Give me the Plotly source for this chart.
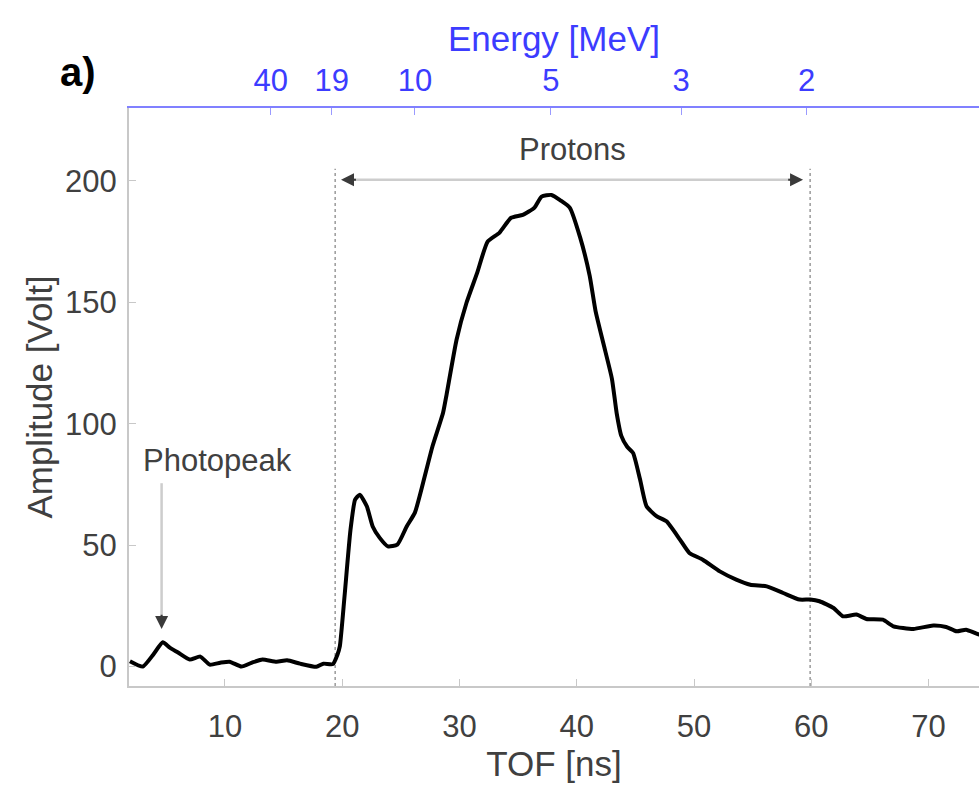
import plotly.graph_objects as go

# ---- data ----
tof_ns = [1.9, 3.0, 3.9, 4.7, 5.3, 6.0, 7.0, 7.9, 8.7, 9.6, 10.4, 11.4, 12.4, 13.2, 14.4,
          15.3, 16.4, 17.8, 18.4, 19.2, 19.6, 19.8, 20.2, 20.7, 21.1, 21.5, 22.1, 22.6,
          23.2, 23.9, 24.7, 25.5, 26.2, 26.9, 27.7, 28.6, 28.9, 29.75, 30.6, 31.5, 32.4,
          33.4, 34.4, 35.4, 36.4, 37.0, 37.85, 38.6, 39.4, 40.3, 41.1, 41.6, 42.3, 43.0,
          43.4, 43.8, 44.3, 44.8, 45.4, 45.95, 46.8, 47.65, 48.8, 49.6, 50.75, 52.2, 53.6,
          54.8, 56.2, 57.6, 59.0, 59.9, 60.7, 61.9, 62.7, 63.85, 64.7, 66.1, 67.0, 68.7,
          70.4, 71.5, 72.4, 73.2, 74.3, 75.0]
amplitude_v = [2.2, 0.0, 5.0, 10.0, 7.8, 5.8, 2.9, 4.1, 0.8, 1.6, 2.0, 0.0, 1.8, 2.9, 2.0,
               2.6, 1.2, -0.1, 1.2, 1.0, 5.0, 8.4, 29, 56, 68.7, 70.8, 66, 57.7,
               53, 49.5, 50.2, 57.7, 63.4, 75.7, 90.7, 104.5, 112, 134.6, 149.8, 162, 175,
               178.6, 184.8, 186, 189, 193.5, 194.2, 192, 189, 176.5, 161, 146.5, 132.5, 118.5,
               104.5, 95, 90.5, 88, 77, 66, 61.9, 59.8, 52.3, 46.8, 44, 39.2, 35.8,
               33.7, 33, 30.3, 27.6, 27.6, 26.9, 24.1, 20.7, 21.4, 19.6, 19.3, 16.6, 15.5,
               16.9, 16.3, 14.5, 15.2, 13.2, 13.5]

x_ticks = [10, 20, 30, 40, 50, 60, 70]
y_ticks = [0, 50, 100, 150, 200]
energy_labels = ["40", "19", "10", "5", "3", "2"]
energy_tof = [13.9, 19.1, 26.2, 37.8, 48.9, 59.6]
proton_window = [19.4, 59.9]

x_range = [1.82, 74.3]
y_range = [-8, 230]

grey = "#404040"
axis_grey = "#c8c8c8"
blue = "#3c3cff"
font = "Liberation Sans, Arial, sans-serif"

fig = go.Figure()
fig.add_trace(go.Scatter(x=tof_ns, y=amplitude_v, mode="lines",
                         line=dict(color="black", width=4, shape="spline", smoothing=0.5),
                         showlegend=False, hoverinfo="skip"))
# invisible trace to anchor the top energy axis
fig.add_trace(go.Scatter(x=x_range, y=[None, None], xaxis="x2", mode="lines",
                         showlegend=False, hoverinfo="skip"))

# dotted proton window lines
for xv in proton_window:
    fig.add_shape(type="line", x0=xv, x1=xv, y0=y_range[0], y1=205, xref="x", yref="y",
                  line=dict(color="#9a9a9a", width=1.5, dash="dot"), layer="below")

arrow_line = "#cdcdcd"
head_col = "#3a3a3a"

# Protons double arrow: light shaft, dark heads
fig.add_shape(type="line", x0=proton_window[0] + 0.8, x1=proton_window[1] - 0.9, y0=200.5, y1=200.5,
              xref="x", yref="y", line=dict(color=arrow_line, width=2.5))
fig.add_annotation(x=proton_window[1] - 0.6, y=200.5, ax=proton_window[1] - 2.0, ay=200.5,
                   xref="x", yref="y", axref="x", ayref="y", text="", showarrow=True,
                   arrowhead=2, arrowsize=1.3, arrowwidth=2, arrowcolor=head_col)
fig.add_annotation(x=proton_window[0] + 0.5, y=200.5, ax=proton_window[0] + 1.9, ay=200.5,
                   xref="x", yref="y", axref="x", ayref="y", text="", showarrow=True,
                   arrowhead=2, arrowsize=1.3, arrowwidth=2, arrowcolor=head_col)
fig.add_annotation(x=39.6, y=213, xref="x", yref="y", text="Protons", showarrow=False,
                   font=dict(family=font, size=31, color=grey))

# Photopeak arrow
fig.add_shape(type="line", x0=4.6, x1=4.6, y0=75.5, y1=19, xref="x", yref="y",
              line=dict(color=arrow_line, width=2.5))
fig.add_annotation(x=4.6, y=15.5, ax=4.6, ay=22, xref="x", yref="y", axref="x", ayref="y",
                   text="", showarrow=True, arrowhead=2, arrowsize=1.3, arrowwidth=2,
                   arrowcolor=head_col)
fig.add_annotation(x=9.4, y=85, xref="x", yref="y", text="Photopeak", showarrow=False,
                   font=dict(family=font, size=31, color=grey))

# panel label
fig.add_annotation(x=-0.083, y=1.0, xref="paper", yref="paper", yanchor="bottom", yshift=12,
                   text="<b>a)</b>", showarrow=False,
                   font=dict(family=font, size=40, color="black"))

fig.update_layout(
    width=979, height=790,
    margin=dict(l=129, r=0, t=108, b=104),
    paper_bgcolor="white", plot_bgcolor="white",
    font=dict(family=font, color=grey),
    xaxis=dict(range=x_range, tickvals=x_ticks, ticks="inside", ticklen=7, tickcolor=axis_grey,
               showline=True, linecolor=axis_grey, linewidth=2, showgrid=False, zeroline=False,
               tickfont=dict(family=font, size=31, color=grey), ticklabelstandoff=12,
               title=dict(text="TOF [ns]", font=dict(family=font, size=35, color=grey),
                          standoff=4)),
    xaxis2=dict(range=x_range, overlaying="x", side="top", anchor="y", tickvals=energy_tof,
                ticktext=energy_labels, ticks="inside", ticklen=7, tickcolor="#9a9aff",
                showline=True, linecolor="#8080ff", linewidth=2, showgrid=False, zeroline=False,
                tickfont=dict(family=font, size=31, color=blue), ticklabelstandoff=3,
                title=dict(text="Energy [MeV]", font=dict(family=font, size=35, color=blue),
                           standoff=0)),
    yaxis=dict(range=y_range, tickvals=y_ticks, ticks="inside", ticklen=7, tickcolor=axis_grey,
               showline=True, linecolor=axis_grey, linewidth=2, showgrid=False, zeroline=False,
               tickfont=dict(family=font, size=31, color=grey), ticklabelstandoff=4,
               title=dict(text="Amplitude [Volt]", font=dict(family=font, size=35, color=grey),
                          standoff=2)),
)

fig.write_html("out.html")
